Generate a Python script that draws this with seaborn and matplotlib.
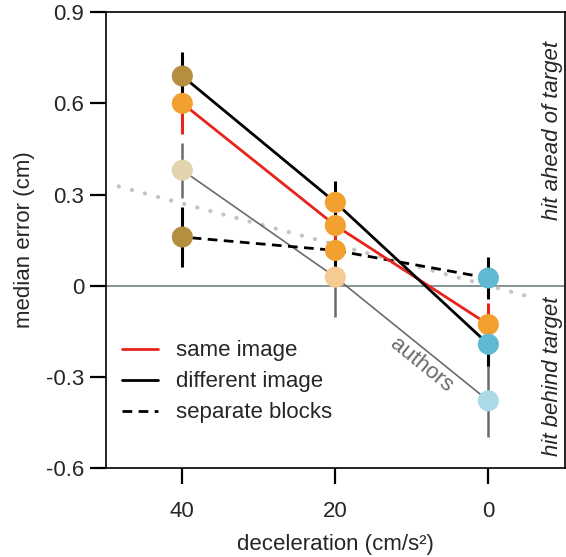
import matplotlib
matplotlib.use("Agg")
import matplotlib.pyplot as plt
import seaborn as sns

# data
decel = [40, 20, 0]

same_image = [0.60, 0.198, -0.128]
same_err = [0.10, 0.07, 0.07]
different_image = [0.69, 0.274, -0.193]
different_err = [0.08, 0.07, 0.07]
separate_blocks = [0.16, 0.116, 0.025]
separate_err = [0.10, 0.07, 0.07]
authors = [0.38, 0.028, -0.379]
authors_err = [0.09, 0.13, 0.12]

# dotted reference line (two ends)
dotted_x = [50, -4.7]
dotted_y = [0.338, -0.032]

same_colors = ['#f2a131', '#f2a131', '#f2a131']
different_colors = ['#b38f3f', '#f2a131', '#5fb9d1']
separate_colors = ['#b38f3f', '#f2a131', '#5fb9d1']
authors_colors = ['#e3d4ae', '#f6cb93', '#abdbe7']

yticks = [-0.6, -0.3, 0, 0.3, 0.6, 0.9]
ytick_labels = ['-0.6', '-0.3', '0', '0.3', '0.6', '0.9']
xticks = [40, 20, 0]

sns.set_style("ticks")
plt.rcParams['font.family'] = ['Liberation Sans', 'DejaVu Sans']
plt.rcParams['font.size'] = 16

fig = plt.figure(figsize=(5.66, 5.57), dpi=100)
ax = fig.add_axes([0.187, 0.16, 0.811, 0.818])

# zero line
ax.axhline(0, color='#7d8b8b', lw=1.3, zorder=1)

# dotted line
sns.lineplot(x=dotted_x, y=dotted_y, ax=ax, color='#c4c4c4', lw=3,
             linestyle=(0, (0.05, 3.2)), dash_capstyle='round', zorder=1)

series = [
    (authors, authors_err, '#6b6b6b', 1.2, '-', authors_colors, None),
    (separate_blocks, separate_err, 'black', 2.0, (0, (3.5, 2.3)), separate_colors, 'separate blocks'),
    (same_image, same_err, '#e8231c', 2.0, '-', same_colors, 'same image'),
    (different_image, different_err, 'black', 2.0, '-', different_colors, 'different image'),
]

handles = {}
for vals, err, col, lw, ls, mcols, lab in series:
    ax.errorbar(decel, vals, yerr=err, fmt='none', ecolor=col,
                elinewidth=2.2 if col != '#6b6b6b' else 1.8, capsize=0, zorder=2)
    sns.lineplot(x=decel, y=vals, ax=ax, color=col, lw=lw, linestyle=ls, zorder=3)
    handles[lab] = ax.lines[-1]
    sns.scatterplot(x=decel, y=vals, hue=mcols, palette={c: c for c in mcols},
                    s=230, edgecolor='none', legend=False, ax=ax, zorder=4)

leg_order = ['same image', 'different image', 'separate blocks']
ax.legend([handles[k] for k in leg_order], leg_order, loc='upper left',
          bbox_to_anchor=(0.036, 0.28), frameon=False, handlelength=1.6,
          handletextpad=0.8, labelspacing=0.45, borderpad=0, borderaxespad=0,
          fontsize=16)

ax.text(8.8, -0.26, 'authors', rotation=-39, color='#6b6b6b', fontsize=16,
        ha='center', va='center')
ax.text(0.972, 0.74, 'hit ahead of target', transform=ax.transAxes,
        rotation=90, style='italic', ha='center', va='center', fontsize=16)
ax.text(0.972, 0.2, 'hit behind target', transform=ax.transAxes,
        rotation=90, style='italic', ha='center', va='center', fontsize=16)

ax.set_xlim(50, -10)
ax.set_ylim(-0.6, 0.9)
ax.set_xticks(xticks)
ax.set_xticklabels([str(t) for t in xticks])
ax.set_yticks(yticks)
ax.set_yticklabels(ytick_labels)
ax.set_xlabel('deceleration (cm/s\u00b2)', labelpad=9)
ax.set_ylabel('median error (cm)', labelpad=8)

for sp in ax.spines.values():
    sp.set_linewidth(1.2)
    sp.set_color('black')
    sp.set_visible(True)
ax.tick_params(axis='both', direction='out', length=11.5, width=1.6,
               labelsize=16, color='black')
ax.tick_params(axis='x', pad=12)
ax.tick_params(axis='y', pad=4)
ax.grid(False)

fig.savefig('out.png', dpi=100)
